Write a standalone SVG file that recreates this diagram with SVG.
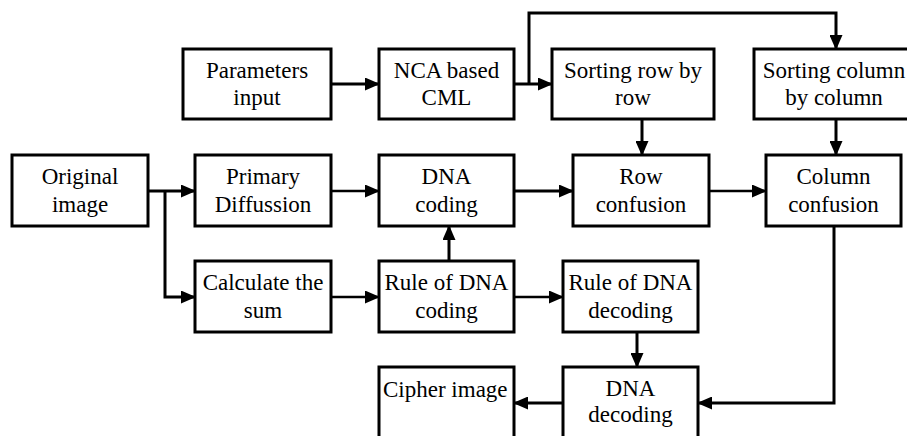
<svg xmlns="http://www.w3.org/2000/svg" width="907" height="436" viewBox="0 0 907 436" font-family="Liberation Serif">
<defs>
<marker id="ah" markerUnits="userSpaceOnUse" markerWidth="15" markerHeight="13" refX="14" refY="6.5" orient="auto">
<path d="M0,0 L15,6.5 L0,13 z" fill="#000"/>
</marker>
</defs>
<rect width="907" height="436" fill="#fff"/>
<g id="connectors" fill="none" stroke="#000" stroke-width="3" marker-end="url(#ah)">
<path d="M331,84 H379"/>
<path d="M514,84 H552"/>
<path d="M529,84 V13 H836 V49"/>
<path d="M642,119 V155"/>
<path d="M836,119 V155"/>
<path d="M148,191 H195"/>
<path d="M165,191 V297 H195"/>
<path stroke-width="2.5" d="M331,191 H379"/>
<path d="M514,191 H573"/>
<path stroke-width="2.5" d="M709,191 H766"/>
<path stroke-width="2.5" d="M331,297 H379"/>
<path d="M449,261 V226"/>
<path stroke-width="2.5" d="M514,297 H563"/>
<path d="M637,332 V367"/>
<path d="M834,226 V403 H698"/>
<path d="M563,403 H514"/>
</g>
<g fill="#fff" stroke="#000" stroke-width="3">
<rect id="r-params" x="183" y="49" width="148" height="70"/>
<rect id="r-nca" x="379" y="49" width="135" height="70"/>
<rect id="r-sortrow" x="552" y="49" width="162" height="70"/>
<rect id="r-sortcol" x="754" y="49" width="162" height="70"/>
<rect id="r-orig" x="12" y="155" width="136" height="71"/>
<rect id="r-primary" x="195" y="155" width="136" height="71"/>
<rect id="r-dnacoding" x="379" y="155" width="135" height="71"/>
<rect id="r-rowconf" x="573" y="155" width="136" height="71"/>
<rect id="r-colconf" x="766" y="155" width="135" height="71"/>
<rect id="r-sum" x="195" y="261" width="136" height="71"/>
<rect id="r-rulecoding" x="379" y="261" width="135" height="71"/>
<rect id="r-ruledecoding" x="563" y="261" width="135" height="71"/>
<rect id="r-cipher" x="379" y="367" width="135" height="80"/>
<rect id="r-dnadecoding" x="563" y="367" width="135" height="80"/>
</g>
<text style="font-family:'Liberation Serif',serif !important" font-family="Liberation Serif" font-size="23" text-anchor="middle" x="257" y="78">Parameters</text>
<text style="font-family:'Liberation Serif',serif !important" font-family="Liberation Serif" font-size="23" text-anchor="middle" x="257" y="105">input</text>
<text style="font-family:'Liberation Serif',serif !important" font-family="Liberation Serif" font-size="23" text-anchor="middle" x="446.5" y="78">NCA based</text>
<text style="font-family:'Liberation Serif',serif !important" font-family="Liberation Serif" font-size="23" text-anchor="middle" x="446.5" y="105">CML</text>
<text style="font-family:'Liberation Serif',serif !important" font-family="Liberation Serif" font-size="23" text-anchor="middle" x="633" y="78">Sorting row by</text>
<text style="font-family:'Liberation Serif',serif !important" font-family="Liberation Serif" font-size="23" text-anchor="middle" x="633" y="105">row</text>
<text style="font-family:'Liberation Serif',serif !important" font-family="Liberation Serif" font-size="23" text-anchor="middle" x="834" y="78">Sorting column</text>
<text style="font-family:'Liberation Serif',serif !important" font-family="Liberation Serif" font-size="23" text-anchor="middle" x="834" y="105">by column</text>
<text style="font-family:'Liberation Serif',serif !important" font-family="Liberation Serif" font-size="23" text-anchor="middle" x="80" y="184">Original</text>
<text style="font-family:'Liberation Serif',serif !important" font-family="Liberation Serif" font-size="23" text-anchor="middle" x="80" y="212">image</text>
<text style="font-family:'Liberation Serif',serif !important" font-family="Liberation Serif" font-size="23" text-anchor="middle" x="263" y="184">Primary</text>
<text style="font-family:'Liberation Serif',serif !important" font-family="Liberation Serif" font-size="23" text-anchor="middle" x="263" y="212">Diffussion</text>
<text style="font-family:'Liberation Serif',serif !important" font-family="Liberation Serif" font-size="23" text-anchor="middle" x="446.5" y="184">DNA</text>
<text style="font-family:'Liberation Serif',serif !important" font-family="Liberation Serif" font-size="23" text-anchor="middle" x="446.5" y="212">coding</text>
<text style="font-family:'Liberation Serif',serif !important" font-family="Liberation Serif" font-size="23" text-anchor="middle" x="641" y="184">Row</text>
<text style="font-family:'Liberation Serif',serif !important" font-family="Liberation Serif" font-size="23" text-anchor="middle" x="641" y="212">confusion</text>
<text style="font-family:'Liberation Serif',serif !important" font-family="Liberation Serif" font-size="23" text-anchor="middle" x="833.5" y="184">Column</text>
<text style="font-family:'Liberation Serif',serif !important" font-family="Liberation Serif" font-size="23" text-anchor="middle" x="833.5" y="212">confusion</text>
<text style="font-family:'Liberation Serif',serif !important" font-family="Liberation Serif" font-size="23" text-anchor="middle" x="263" y="290">Calculate the</text>
<text style="font-family:'Liberation Serif',serif !important" font-family="Liberation Serif" font-size="23" text-anchor="middle" x="263" y="318">sum</text>
<text style="font-family:'Liberation Serif',serif !important" font-family="Liberation Serif" font-size="23" text-anchor="middle" x="446.5" y="290">Rule of DNA</text>
<text style="font-family:'Liberation Serif',serif !important" font-family="Liberation Serif" font-size="23" text-anchor="middle" x="446.5" y="318">coding</text>
<text style="font-family:'Liberation Serif',serif !important" font-family="Liberation Serif" font-size="23" text-anchor="middle" x="630.5" y="290">Rule of DNA</text>
<text style="font-family:'Liberation Serif',serif !important" font-family="Liberation Serif" font-size="23" text-anchor="middle" x="630.5" y="318">decoding</text>
<text style="font-family:'Liberation Serif',serif !important" font-family="Liberation Serif" font-size="23" x="383" y="397">Cipher image</text>
<text style="font-family:'Liberation Serif',serif !important" font-family="Liberation Serif" font-size="23" text-anchor="middle" x="630.5" y="396">DNA</text>
<text style="font-family:'Liberation Serif',serif !important" font-family="Liberation Serif" font-size="23" text-anchor="middle" x="630.5" y="422">decoding</text>
</svg>
